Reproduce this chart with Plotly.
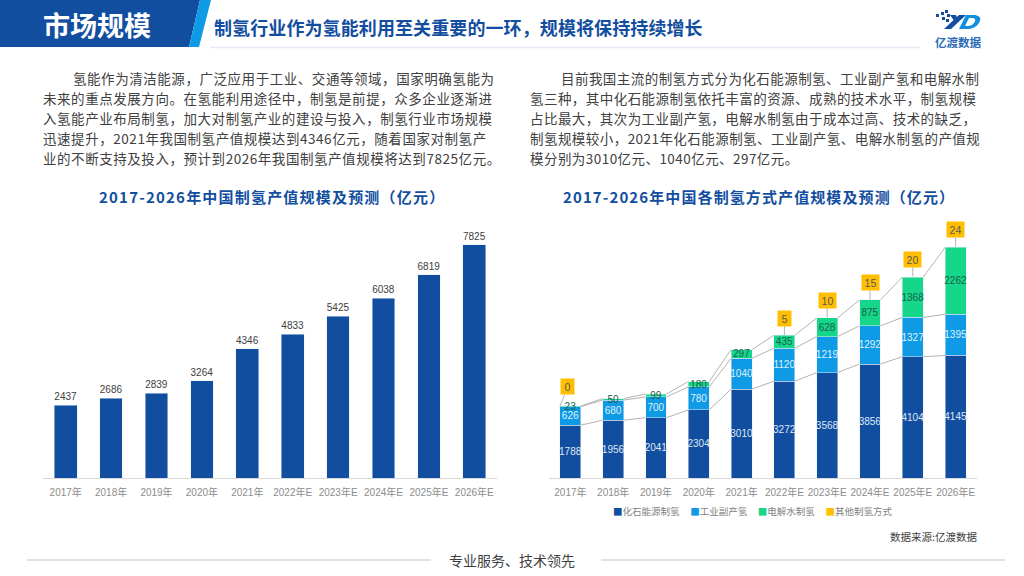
import plotly.graph_objects as go

W, H = 1024, 576
CJK = "Liberation Sans, Noto Sans CJK SC"
BODY = "Noto Sans CJK SC"

years = ['2017年', '2018年', '2019年', '2020年', '2021年', '2022年E', '2023年E', '2024年E', '2025年E', '2026年E']
total = [2437, 2686, 2839, 3264, 4346, 4833, 5425, 6038, 6819, 7825]
fossil = [1788, 1956, 2041, 2304, 3010, 3272, 3568, 3856, 4104, 4145]
industrial = [626, 680, 700, 780, 1040, 1120, 1219, 1292, 1327, 1395]
electrolysis = [23, 50, 99, 180, 297, 435, 628, 875, 1368, 2262]
other = [0, None, None, None, None, 5, 10, 15, 20, 24]

series_names = ['化石能源制氢', '工业副产氢', '电解水制氢', '其他制氢方式']
series_colors = ['#124ea0', '#0f9ae6', '#16d68a', '#ffbf00']

left_text = ['氢能作为清洁能源，广泛应用于工业、交通等领域，国家明确氢能为',
             '未来的重点发展方向。在氢能利用途径中，制氢是前提，众多企业逐渐进',
             '入氢能产业布局制氢，加大对制氢产业的建设与投入，制氢行业市场规模',
             '迅速提升，2021年我国制氢产值规模达到4346亿元，随着国家对制氢产',
             '业的不断支持及投入，预计到2026年我国制氢产值规模将达到7825亿元。']
right_text = ['目前我国主流的制氢方式分为化石能源制氢、工业副产氢和电解水制',
              '氢三种，其中化石能源制氢依托丰富的资源、成熟的技术水平，制氢规模',
              '占比最大，其次为工业副产氢，电解水制氢由于成本过高、技术的缺乏，',
              '制氢规模较小，2021年化石能源制氢、工业副产氢、电解水制氢的产值规',
              '模分别为3010亿元、1040亿元、297亿元。']


def px(x):
    return x / W


def py(y):
    return 1 - y / H


def spaced(text, amount):
    return f'<span style="letter-spacing:{amount}px">{text}</span>'


def label(x, y, text, size, color, anchor='left', bold=False, family=BODY):
    # annotations carry about 2px of padding, take it back out
    if anchor == 'left':
        x -= 2
    elif anchor == 'right':
        x += 2
    if bold:
        text = '<b>' + text + '</b>'
    return dict(xref='paper', yref='paper', x=px(x), y=py(y), text=text, showarrow=False,
                xanchor=anchor, yanchor='middle', font=dict(size=size, color=color, family=family))


def pt(x, y):
    return f'{px(x)},{py(y)}'


def poly(points, color):
    path = 'M' + ' L'.join(pt(x, y) for x, y in points) + ' Z'
    return dict(type='path', xref='paper', yref='paper', path=path, fillcolor=color, line_width=0)


def rule(x0, x1, y, color, width):
    return dict(type='line', xref='paper', yref='paper', x0=px(x0), x1=px(x1), y0=py(y), y1=py(y),
                line=dict(color=color, width=width))


fig = go.Figure()

# left chart
fig.add_trace(go.Bar(x=years, y=total, text=total, textposition='outside', cliponaxis=False,
                     marker_color=series_colors[0], width=0.5, showlegend=False,
                     textfont=dict(size=10, color='#404040', family=CJK), xaxis='x', yaxis='y'))

# right chart, stacked
idx = list(range(len(years)))
text_colors = ['#dfe8f5', '#dff1fb', '#17614a']
for vals, name, color, tc in zip([fossil, industrial, electrolysis], series_names, series_colors, text_colors):
    fig.add_trace(go.Bar(x=idx, y=vals, text=vals, name=name, marker_color=color, width=0.49,
                         textposition='inside', insidetextanchor='middle', constraintext='none',
                         textangle=0, textfont=dict(size=10, color=tc, family=CJK), showlegend=False,
                         xaxis='x2', yaxis='y2'))

# series lines between the stacks
level1 = fossil
level2 = [a + b for a, b in zip(fossil, industrial)]
level3 = [a + b for a, b in zip(level2, electrolysis)]
for level in [level1, level2, level3]:
    xs, ys = [], []
    for i in idx[:-1]:
        xs += [i + 0.245, i + 1 - 0.245, None]
        ys += [level[i], level[i + 1], None]
    fig.add_trace(go.Scatter(x=xs, y=ys, mode='lines', line=dict(color='#b3b3b3', width=1),
                             showlegend=False, xaxis='x2', yaxis='y2'))

notes = []
for i, v in zip(idx, other):
    if v is None:
        continue
    top = level3[i] + v
    first = i == 0
    notes.append(dict(xref='x2', yref='y2', x=i - 0.245 if first else i, y=top, text=str(v),
                      showarrow=True, arrowhead=0, arrowcolor='#b3b3b3', arrowwidth=1,
                      ax=8 if first else 0, ay=-19 if first else -17,
                      bgcolor=series_colors[3], borderpad=1, width=11 if v < 10 else 15, height=13,
                      font=dict(size=10.5, color='#595959', family=CJK)))

# header, footer rules and the logo
shapes = [
    poly([(0, 0), (200, 0), (189, 47), (0, 47)], '#124ea0'),
    poly([(200, 0), (211, 0), (199, 47), (189, 47)], '#0f9ae6'),
    rule(210, 920, 47.5, '#e4ebf6', 1.5),
    rule(27, 431, 560, '#d9d9d9', 1.5),
    rule(601, 1005, 560, '#d9d9d9', 1.5),
    poly([(944, 29), (951, 29), (966, 15), (959, 15)], '#124ea0'),
    poly([(950, 15), (956, 15), (958, 20), (955, 22)], '#124ea0'),
    dict(type='path', xref='paper', yref='paper', fillcolor='#0f8fe0', line_width=0,
         path=f'M{pt(959, 29)} L{pt(966, 15)} L{pt(975, 15)} Q{pt(983, 16)} {pt(979, 23)} Q{pt(975, 29)} {pt(967, 29)} Z'),
    dict(type='path', xref='paper', yref='paper', fillcolor='#ffffff', line_width=0,
         path=f'M{pt(965, 26)} L{pt(969, 18)} L{pt(973, 18)} Q{pt(977, 19)} {pt(974, 23)} Q{pt(972, 26)} {pt(968, 26)} Z'),
]
for x, y in [(936, 14), (941, 12), (945, 10), (942, 17), (947, 14), (946, 19)]:
    shapes.append(dict(type='rect', xref='paper', yref='paper', x0=px(x), x1=px(x + 3),
                       y0=py(y), y1=py(y + 3), fillcolor='#124ea0', line_width=0))

notes += [
    label(97, 24.5, '市场规模', 27, '#ffffff', 'center', True),
    label(214, 27, spaced('制氢行业作为氢能利用至关重要的一环，规模将保持持续增长', 0.1), 18, '#124ea0', bold=True),
    label(958.5, 42, '亿渡数据', 11.5, '#2a6cb5', 'center', True),
    label(271.5, 196.5, spaced('2017-2026年中国制氢产值规模及预测（亿元）', 1.2), 15, '#124ea0', 'center', True),
    label(759, 196.5, spaced('2017-2026年中国各制氢方式产值规模及预测（亿元）', 1.1), 15, '#124ea0', 'center', True),
    label(977, 536, '数据来源:亿渡数据', 10.5, '#404040', 'right'),
    label(512, 560, '专业服务、技术领先', 14, '#404040', 'center'),
]
for i, line in enumerate(left_text):
    notes.append(label(73 if i == 0 else 43, 78 + 20 * i, spaced(line, 0.55), 13.5, '#404040'))
for i, line in enumerate(right_text):
    notes.append(label(561 if i == 0 else 530, 78 + 20 * i, spaced(line, 0.45), 13.5, '#404040'))

legend_parts = [f'<span style="color:{c}">■</span>{n}' for n, c in zip(series_names, series_colors)]
notes.append(label(752.5, 511, '     '.join(legend_parts), 9.5, '#7f7f7f', 'center'))

axis_font = dict(size=10, color='#8c8c8c', family=CJK)
fig.update_layout(
    width=W, height=H, margin=dict(l=0, r=0, t=0, b=0), paper_bgcolor='white', plot_bgcolor='white',
    barmode='stack', shapes=shapes, annotations=notes,
    xaxis=dict(domain=[px(43), px(497)], type='category', showgrid=False, ticks='', tickfont=axis_font,
               showline=True, linecolor='#d9d9d9', anchor='y', ticklabelstandoff=5),
    yaxis=dict(domain=[py(478), py(220)], range=[0, 258 / 0.02978], visible=False, anchor='x'),
    xaxis2=dict(domain=[px(549), px(977)], range=[-0.5, 9.5], tickvals=idx, ticktext=years, showgrid=False,
                zeroline=False, ticks='', tickfont=axis_font, showline=True, linecolor='#d9d9d9', anchor='y2',
                ticklabelstandoff=5),
    yaxis2=dict(domain=[py(478), py(215)], range=[0, 263 / 0.02956], visible=False, anchor='x2'),
)

fig.write_html("out.html", config={'displayModeBar': False}, post_script="document.body.style.margin='0'")
